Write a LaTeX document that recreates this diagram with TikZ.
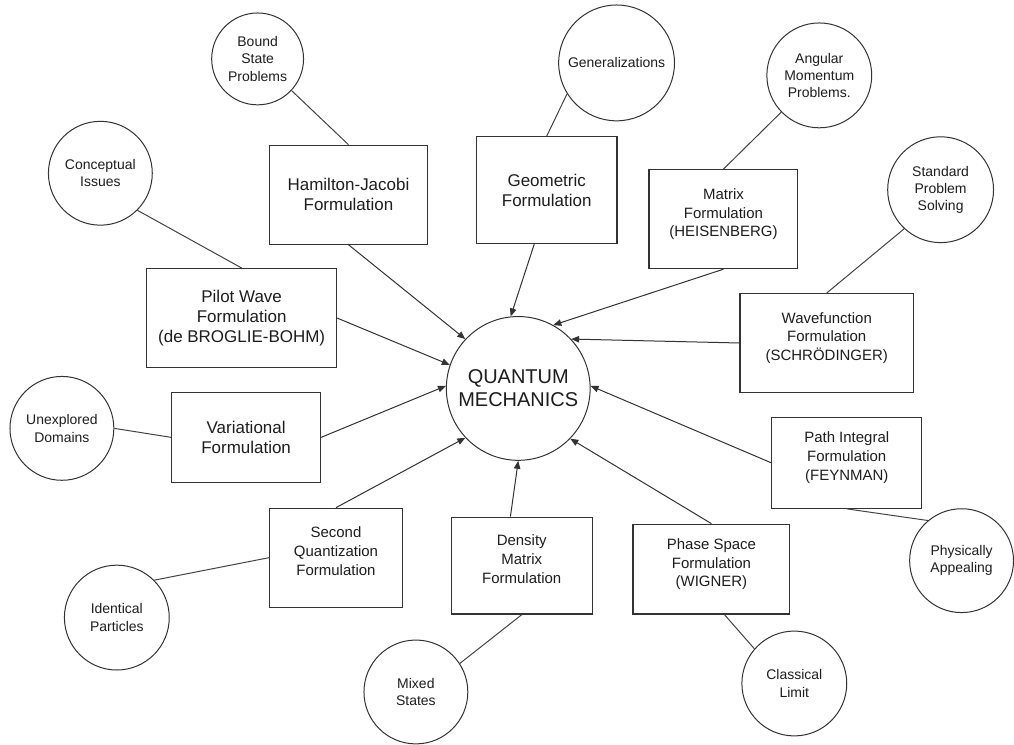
\documentclass[tikz,border=0pt]{standalone}
\usepackage{fontspec}
\setmainfont{Liberation Sans}
\usetikzlibrary{arrows.meta}
\definecolor{ink}{HTML}{1E1E1E}
\definecolor{edge}{HTML}{333333}
\definecolor{wire}{HTML}{444444}

\begin{document}
\begin{tikzpicture}[
  x=1pt, y=-1pt, >={Triangle[length=8pt,width=6.5pt]},
  every node/.append style={text=ink, align=center, inner sep=0pt},
  topic/.style={circle, draw=edge, line width=1pt, minimum size=#1, font=\fontsize{14}{17.3}\selectfont},
  form/.style 2 args={rectangle, draw=edge, line width=1.2pt, minimum width=#1, minimum height=#2, font=\fontsize{17}{20}\selectfont},
  formsm/.style 2 args={form={#1}{#2}, font=\fontsize{15}{18.7}\selectfont, text height=48pt, text depth=12.9pt},
  link/.style={draw=wire, line width=1pt},
  feed/.style={draw=edge, line width=1pt, ->},
]
\fill[white] (0,0) rectangle (1014,746);
% --- centre ---
\node[circle, draw=edge, line width=1pt, minimum size=144pt, font=\fontsize{20}{23}\selectfont] (qm) at (519,389) {QUANTUM\\MECHANICS};
% --- formulations ---
\node[form={158pt}{99pt}] (hj) at (349,195) {Hamilton-Jacobi\\Formulation};
\node[form={141pt}{107pt}] (geo) at (547.5,190.5) {Geometric\\Formulation};
\node[formsm={149pt}{99pt}] (mat) at (724.5,219.5) {Matrix\\Formulation\\(HEISENBERG)};
\node[formsm={174pt}{99pt}] (wave) at (828,343.5) {Wavefunction\\Formulation\\(SCHRÖDINGER)};
\node[formsm={150pt}{91pt}] (path) at (848,463.5) {Path Integral\\Formulation\\(FEYNMAN)};
\node[formsm={157pt}{90pt}] (phase) at (712.5,570) {Phase Space\\Formulation\\(WIGNER)};
\node[formsm={141pt}{97pt}] (dens) at (522.5,566.5) {Density\\Matrix\\Formulation};
\node[formsm={133pt}{99pt}] (secq) at (336.5,558.5) {Second\\Quantization\\Formulation};
\node[form={149pt}{90pt}] (vari) at (246.5,438) {Variational\\Formulation};
\node[form={190pt}{99pt}] (pilot) at (242,318.5) {Pilot Wave\\Formulation\\(de BROGLIE-BOHM)};
% --- topics ---
\node[topic=92pt] (bound) at (258,59) {Bound\\State\\Problems};
\node[topic=116pt] (gen) at (617.5,63) {Generalizations};
\node[topic=105pt] (ang) at (820.5,75.5) {Angular\\Momentum\\Problems.};
\node[topic=106pt] (std) at (942,190) {Standard\\Problem\\Solving};
\node[topic=104pt] (conc) at (100.5,173.5) {Conceptual\\Issues};
\node[topic=104pt] (unexp) at (62,429) {Unexplored\\Domains};
\node[topic=105pt] (ident) at (117,618.5) {Identical\\Particles};
\node[topic=104pt] (mixed) at (416.5,693) {Mixed\\States};
\node[topic=105pt] (classic) at (795.5,684.5) {Classical\\Limit};
\node[topic=104pt] (phys) at (963,561.5) {Physically\\Appealing};
% topic links
\draw[link] (bound.-43) -- (hj.north);
\draw[link] (gen.212) -- (geo.north);
\draw[link] (ang.224) -- (mat.north);
\draw[link] (std.227) -- (wave.north);
\draw[link] (conc.-45) -- (pilot.north);
\draw[link] (unexp.east) -- (vari.west);
\draw[link] (ident.45) -- (secq.west);
\draw[link] (mixed.33) -- (dens.south);
\draw[link] (classic.139) -- (phase.-74);
\draw[link] (phys.130) -- (path.south);
% --- every formulation feeds the centre ---
\foreach \src/\ang in {hj.south/137, geo.-103/96, mat.south/61, wave.west/43, path.west/2, phase.north/-44, dens.103/-90, secq.north/223, vari.east/178, pilot.east/161}
  \draw[feed] (\src) -- (qm.\ang);
\end{tikzpicture}
\end{document}
